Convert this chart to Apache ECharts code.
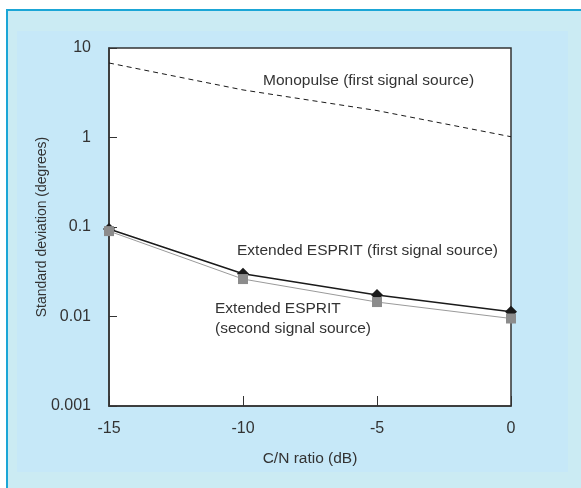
<!DOCTYPE html>
<html>

<head>
  <meta charset="utf-8" />
  <title>ECharts</title>
  <script src="https://cdn.jsdelivr.net/npm/echarts@6.0.0/dist/echarts.min.js"></script>
  <style>
    body {
      margin: 0;
      background-color: #ffffff;
    }
  </style>
</head>

<body>
  <div id="main" style="width: 581px;height:488px;"></div>
  <script type="text/javascript">
    var myChart = echarts.init(document.getElementById('main'));

    // C/N ratio (dB)
    let cnRatio = [-15, -10, -5, 0];
    // standard deviation (degrees)
    let monopulse = [6.8, 3.4, 2.0, 1.02];
    let espritFirst = [0.095, 0.030, 0.0174, 0.0113];
    let espritSecond = [0.09, 0.0262, 0.0145, 0.0095];
    let xTicks = [-15, -10, -5, 0];

    let fontFam = 'Liberation Sans, Arial, sans-serif';
    let textColor = '#333';
    let axisColor = '#333';

    function pairs(ys) {
      return cnRatio.map((x, i) => [x, ys[i]]);
    }

    var option = {
      backgroundColor: '#ffffff',
      animation: false,
      graphic: [
        // outer frame
        {
          type: 'rect', z: -10, silent: true,
          shape: { x: 7, y: 10, width: 590, height: 500 },
          style: { fill: '#cbebf3', stroke: '#1ba6d6', lineWidth: 2 }
        },
        // inner panel
        {
          type: 'rect', z: -9, silent: true,
          shape: { x: 17, y: 31, width: 551, height: 441 },
          style: { fill: '#c6e8f8' }
        },
        {
          type: 'text', z: 10, left: 263, top: 73,
          style: { text: 'Monopulse (first signal source)', fill: textColor, font: '15.5px ' + fontFam }
        },
        {
          type: 'text', z: 10, left: 237, top: 243,
          style: { text: 'Extended ESPRIT (first signal source)', fill: textColor, font: '15.5px ' + fontFam }
        },
        {
          type: 'text', z: 10, left: 215, top: 299,
          style: { text: 'Extended ESPRIT\n(second signal source)', fill: textColor, font: '15.5px ' + fontFam, lineHeight: 20 }
        }
      ],
      grid: {
        left: 109,
        right: 70,
        top: 48,
        bottom: 82,
        show: true,
        backgroundColor: '#ffffff',
        borderColor: axisColor,
        borderWidth: 1.5
      },
      xAxis: {
        type: 'value',
        min: -15,
        max: 0,
        interval: 5,
        name: 'C/N ratio (dB)',
        nameLocation: 'middle',
        nameGap: 45,
        nameTextStyle: { color: textColor, fontSize: 15.5, fontFamily: fontFam },
        axisLine: { onZero: false, lineStyle: { color: axisColor, width: 1.5 } },
        axisTick: { inside: true, length: 10, lineStyle: { color: axisColor } },
        splitLine: { show: false },
        axisLabel: {
          color: textColor, fontSize: 16, fontFamily: fontFam, margin: 15,
          formatter: v => xTicks.indexOf(v) >= 0 ? String(v) : ''
        }
      },
      yAxis: {
        type: 'log',
        logBase: 10,
        min: 0.001,
        max: 10,
        name: 'Standard deviation (degrees)',
        nameLocation: 'middle',
        nameGap: 60,
        nameMoveOverlap: false,
        nameTextStyle: { color: textColor, fontSize: 14, fontFamily: fontFam },
        axisLine: { onZero: false, lineStyle: { color: axisColor, width: 1.5 } },
        axisTick: { inside: true, length: 8, lineStyle: { color: axisColor } },
        minorTick: { show: false },
        splitLine: { show: false },
        axisLabel: {
          color: textColor, fontSize: 16, fontFamily: fontFam, margin: 18,
          formatter: v => String(parseFloat(Number(v).toPrecision(3)))
        }
      },
      series: [{
        name: 'Monopulse',
        type: 'line',
        data: pairs(monopulse),
        showSymbol: false,
        symbol: 'none',
        lineStyle: { color: '#1a1a1a', width: 1, type: [5, 4] },
        z: 3
      }, {
        name: 'Extended ESPRIT (first)',
        type: 'line',
        data: pairs(espritFirst),
        symbol: 'diamond',
        symbolSize: 12,
        itemStyle: { color: '#1a1a1a' },
        lineStyle: { color: '#1a1a1a', width: 1.5 },
        z: 3
      }, {
        name: 'Extended ESPRIT (second)',
        type: 'line',
        data: pairs(espritSecond),
        symbol: 'rect',
        symbolSize: 10,
        itemStyle: { color: '#8c8c8c' },
        lineStyle: { color: '#9a9a9a', width: 1 },
        z: 4
      }]
    };

    myChart.setOption(option);
  </script>
</body>

</html>
